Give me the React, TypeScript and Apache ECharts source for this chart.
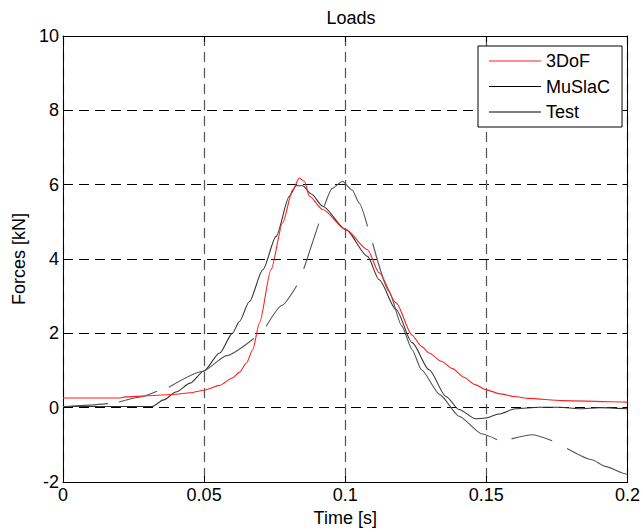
import React, { useEffect, useRef } from "react";
import * as echarts from "echarts";

// ---- Data ----
const xTicks = [0, 0.05, 0.1, 0.15, 0.2];
const yTicks = [-2, 0, 2, 4, 6, 8, 10];

const dofT = [0, 0.01, 0.0198, 0.022, 0.03, 0.04, 0.045, 0.05, 0.0555, 0.06, 0.0625, 0.065, 0.0672, 0.0696, 0.0737, 0.0778, 0.0814, 0.0837, 0.0855, 0.0873, 0.092, 0.1002, 0.1079, 0.112, 0.118, 0.1237, 0.127, 0.1297, 0.134, 0.138, 0.142, 0.146, 0.15, 0.155, 0.16, 0.165, 0.177, 0.194, 0.2];
const dofF = [0.26, 0.26, 0.26, 0.29, 0.32, 0.36, 0.4, 0.47, 0.6, 0.8, 0.95, 1.2, 1.56, 2.28, 3.71, 4.97, 5.86, 6.18, 6.09, 5.69, 5.33, 4.79, 4.25, 3.63, 2.82, 1.95, 1.65, 1.47, 1.25, 1.05, 0.82, 0.62, 0.48, 0.37, 0.3, 0.25, 0.19, 0.16, 0.15];

const musT = [0, 0.01, 0.02, 0.0315, 0.0357, 0.04, 0.0451, 0.0498, 0.0555, 0.06, 0.0625, 0.066, 0.0708, 0.0755, 0.0802, 0.0826, 0.0849, 0.088, 0.092, 0.1002, 0.1079, 0.112, 0.118, 0.1237, 0.1297, 0.1357, 0.1403, 0.1462, 0.1497, 0.1544, 0.1603, 0.1686, 0.176, 0.183, 0.19, 0.2];
const musF = [0.03, 0.03, 0.03, 0.03, 0.21, 0.42, 0.66, 0.98, 1.47, 2.0, 2.32, 2.85, 3.71, 4.61, 5.69, 5.97, 5.97, 5.75, 5.42, 4.79, 4.07, 3.44, 2.64, 1.75, 1.02, 0.3, -0.05, -0.3, -0.28, -0.17, -0.03, 0.01, 0.01, -0.03, 0.0, -0.03];

// null marks a gap in the measured Test signal
const testT = [0, 0.0063, 0.016, 0.018, 0.0198, 0.027, 0.0333, 0.035, 0.0375, 0.0496, 0.058, 0.0676, 0.07, 0.072, 0.0775, 0.0828, 0.084, 0.0853, 0.0906, 0.0916, 0.0926, 0.0954, 0.099, 0.1025, 0.105, 0.1079, 0.1088, 0.1097, 0.1155, 0.12, 0.1237, 0.127, 0.1335, 0.1403, 0.1485, 0.1538, 0.156, 0.1589, 0.1662, 0.1733, 0.176, 0.1786, 0.1874, 0.1921, 0.1992, 0.2];
const testF = [0.03, 0.06, 0.11, null, 0.15, 0.28, 0.44, null, 0.55, 0.98, 1.4, 1.86, null, 2.19, 2.75, 3.28, null, 3.73, 4.95, null, 5.43, 5.9, 6.09, 5.85, 5.5, 4.88, null, 4.43, 3.13, 2.2, 1.56, 1.02, 0.35, -0.23, -0.71, -0.86, null, -0.84, -0.73, -0.89, null, -1.1, -1.4, -1.58, -1.78, -1.8];

const seriesNames = ["3DoF", "MuSlaC", "Test"];
const legendColors = ["#ff2020", "#000", "#000"];

const FONT = "'Liberation Sans', Arial, Helvetica, sans-serif";
const LINE_ICON = "path://M0,0H52V1.2H0Z";

export default function App() {
  const ref = useRef<HTMLDivElement>(null);

  useEffect(() => {
    if (!ref.current) return;
    const chart = echarts.init(ref.current, null, { renderer: "svg" });

    const pairs = (ts: number[], fs: (number | null)[]) =>
      ts.map((t, i) => [t, fs[i] === null ? "-" : fs[i]]);

    const axisText = { color: "#000", fontFamily: FONT, fontSize: 18 };

    chart.setOption({
      animation: false,
      backgroundColor: "#fff",
      title: {
        text: "Loads",
        left: 346,
        top: 4,
        textAlign: "center",
        textStyle: { color: "#000", fontFamily: FONT, fontSize: 18, fontWeight: "normal" },
      },
      grid: { left: 63, right: 14, top: 36, bottom: 50, containLabel: false },
      legend: {
        orient: "vertical",
        left: 478,
        top: 46,
        data: seriesNames.map((n, i) => ({
          name: n,
          icon: LINE_ICON,
          itemStyle: { color: legendColors[i], borderWidth: 0 },
        })),
        itemWidth: 52,
        itemHeight: 14,
        itemGap: 7.5,
        padding: [6, 12, 6, 11],
        backgroundColor: "#fff",
        borderColor: "#000",
        borderWidth: 1,
        borderRadius: 0,
        textStyle: { color: "#000", fontFamily: FONT, fontSize: 18, lineHeight: 18 },
      },
      xAxis: [
        {
          type: "value",
          min: xTicks[0],
          max: xTicks[xTicks.length - 1],
          interval: 0.05,
          name: "Time [s]",
          nameLocation: "middle",
          nameGap: 24,
          nameTextStyle: axisText,
          axisLine: { show: true, onZero: false, lineStyle: { color: "#000", width: 1 } },
          axisTick: { show: true, inside: true, length: 6, lineStyle: { color: "#000" } },
          axisLabel: { ...axisText, margin: 4, formatter: (v: number) => String(+v.toFixed(2)) },
          splitLine: { show: true, lineStyle: { color: "#555", width: 1.2, type: [10, 6] } },
        },
        {
          type: "value",
          position: "top",
          min: xTicks[0],
          max: xTicks[xTicks.length - 1],
          interval: 0.05,
          axisLine: { show: true, onZero: false, lineStyle: { color: "#000", width: 1 } },
          axisTick: { show: true, inside: true, length: 6, lineStyle: { color: "#000" } },
          axisLabel: { show: false },
          splitLine: { show: false },
        },
      ],
      yAxis: [
        {
          type: "value",
          min: yTicks[0],
          max: yTicks[yTicks.length - 1],
          interval: 2,
          name: "Forces [kN]",
          nameLocation: "middle",
          nameGap: 34,
          nameTextStyle: axisText,
          axisLine: { show: true, onZero: false, lineStyle: { color: "#000", width: 1 } },
          axisTick: { show: true, inside: true, length: 5, lineStyle: { color: "#000" } },
          axisLabel: { ...axisText, margin: 4 },
          splitLine: { show: true, lineStyle: { color: "#000", width: 1, type: [10, 6] } },
        },
        {
          type: "value",
          position: "right",
          min: yTicks[0],
          max: yTicks[yTicks.length - 1],
          interval: 2,
          axisLine: { show: true, onZero: false, lineStyle: { color: "#000", width: 1 } },
          axisTick: { show: true, inside: true, length: 5, lineStyle: { color: "#000" } },
          axisLabel: { show: false },
          splitLine: { show: false },
        },
      ],
      series: [
        {
          name: seriesNames[0],
          type: "line",
          data: pairs(dofT, dofF),
          symbol: "none",
          smooth: 0.25,
          smoothMonotone: "x",
          lineStyle: { color: "#ff2020", width: 1.1 },
          itemStyle: { color: "#ff2020" },
          z: 3,
        },
        {
          name: seriesNames[1],
          type: "line",
          data: pairs(musT, musF),
          symbol: "none",
          smooth: 0.25,
          smoothMonotone: "x",
          lineStyle: { color: "#333", width: 1.1 },
          itemStyle: { color: "#333" },
          z: 2,
        },
        {
          name: seriesNames[2],
          type: "line",
          data: pairs(testT, testF),
          symbol: "none",
          smooth: 0.2,
          smoothMonotone: "x",
          connectNulls: false,
          lineStyle: { color: "#555", width: 1.1 },
          itemStyle: { color: "#555" },
          z: 2,
        },
      ],
    });

    return () => chart.dispose();
  }, []);

  return (
    <div
      ref={ref}
      style={{ position: "fixed", left: 0, top: 0, width: 643, height: 532, background: "#fff" }}
    />
  );
}
